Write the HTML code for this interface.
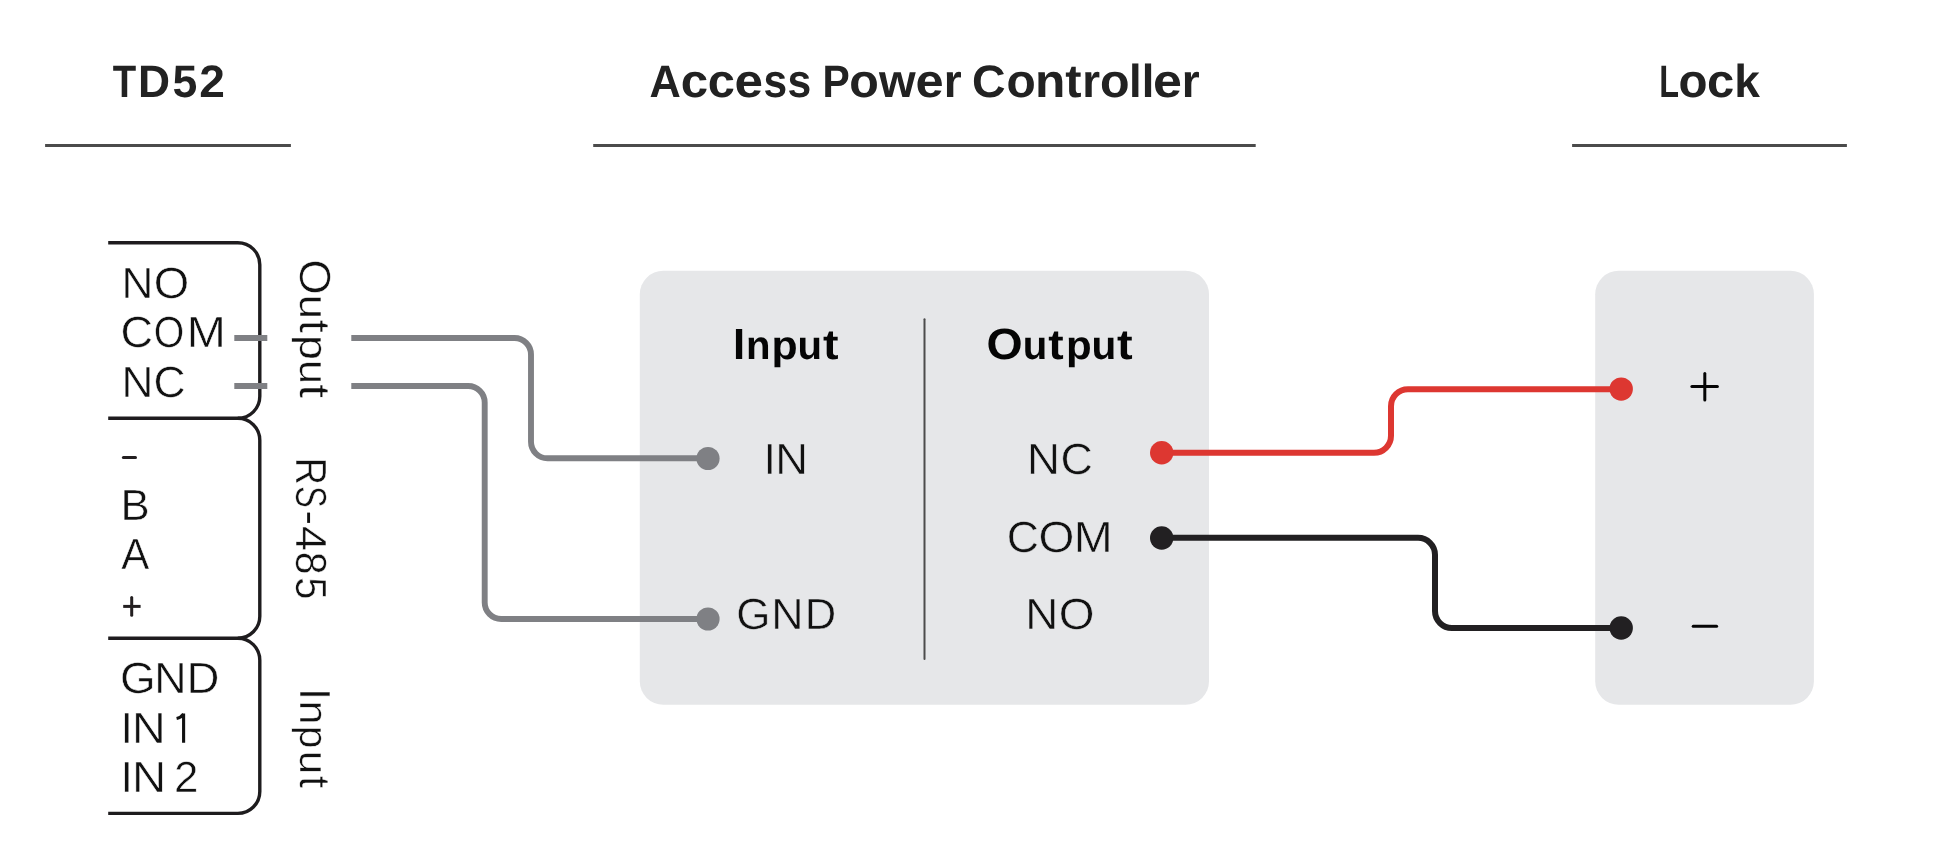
<!DOCTYPE html>
<html><head><meta charset="utf-8">
<style>
html,body{margin:0;padding:0;background:#fff;width:1952px;height:858px;overflow:hidden}
svg{display:block;will-change:transform;text-rendering:geometricPrecision}
text{font-family:"Liberation Sans",sans-serif;font-kerning:none}
.h{font-weight:bold;fill:#222;font-size:45.4px}
.l{fill:#111;font-size:43.6px;stroke:#fff;stroke-width:0.5px}
.lb{stroke:#e6e7e9}
.b{font-weight:bold;fill:#050505;font-size:43.6px}
</style></head><body>
<svg width="1952" height="858" viewBox="0 0 1952 858">
<g stroke="#4b4b4b" stroke-width="3">
<line x1="45.1" y1="145.6" x2="290.9" y2="145.6"/>
<line x1="593.2" y1="145.6" x2="1255.7" y2="145.6"/>
<line x1="1572.1" y1="145.6" x2="1846.9" y2="145.6"/>
</g>
<rect x="639.8" y="270.8" width="569.2" height="434" rx="23.5" fill="#e6e7e9"/>
<rect x="1595.2" y="270.8" width="218.7" height="434" rx="23.5" fill="#e6e7e9"/>
<line x1="924.5" y1="319.2" x2="924.5" y2="659" stroke="#4c4c4c" stroke-width="2" stroke-linecap="round"/>
<g fill="none" stroke="#1e1c1e" stroke-width="3.4">
<path d="M108.2 242.7 H237.8 A22 22 0 0 1 259.8 264.7 V396.3 A22 22 0 0 1 237.8 418.3 H108.2"/>
<path d="M237.8 418.3 A22 22 0 0 1 259.8 440.3 V616.2 A22 22 0 0 1 237.8 638.2 H108.2"/>
<path d="M237.8 638.2 A22 22 0 0 1 259.8 660.2 V791.4 A22 22 0 0 1 237.8 813.4 H108.2"/>
</g>
<g stroke="#231f20" stroke-width="3">
<line x1="123.4" y1="457.5" x2="135.5" y2="457.5" stroke-linecap="round"/>
<line x1="123.2" y1="606.4" x2="140.6" y2="606.4"/>
<line x1="131.7" y1="597.4" x2="131.7" y2="615.2" stroke-linecap="round"/>
<path d="M183.6 713.6 V742.7 M176.6 718.4 Q181.2 717.4 183.6 713.8" fill="none" stroke="#111" stroke-width="3.1"/>
<line x1="308.6" y1="512.6" x2="308.6" y2="522.9" stroke="#111" stroke-width="2.9"/>
</g>
<g fill="none" stroke="#7f8084" stroke-width="5.9">
<path d="M234.3 338 H267.3"/>
<path d="M234.3 386 H267.3"/>
<path d="M351.3 338 H514.5 A16.5 16.5 0 0 1 531 354.5 V441.8 A16.5 16.5 0 0 0 547.5 458.3 H708"/>
<path d="M351.3 386 H468.2 A16.5 16.5 0 0 1 484.7 402.5 V602.5 A16.5 16.5 0 0 0 501.2 619 H708"/>
</g>
<circle cx="708" cy="458.5" r="11.6" fill="#7f8084"/>
<circle cx="708" cy="619" r="11.6" fill="#7f8084"/>
<path d="M1162 452.8 H1374 A17 17 0 0 0 1391 435.8 V406.2 A17 17 0 0 1 1408 389.2 H1621" fill="none" stroke="#dd3731" stroke-width="6"/>
<circle cx="1161.7" cy="452.7" r="11.7" fill="#dd3731"/>
<circle cx="1621.2" cy="389.1" r="11.7" fill="#dd3731"/>
<path d="M1162 537.8 H1418 A17 17 0 0 1 1435 554.8 V611 A17 17 0 0 0 1452 628 H1621" fill="none" stroke="#222022" stroke-width="6"/>
<circle cx="1161.7" cy="538" r="11.7" fill="#222022"/>
<circle cx="1621.2" cy="628" r="11.7" fill="#222022"/>
<g stroke="#050505" stroke-width="3" stroke-linecap="round">
<line x1="1691.9" y1="386.5" x2="1717.4" y2="386.5"/>
<line x1="1704.8" y1="373.4" x2="1704.8" y2="399.9"/>
<line x1="1693.2" y1="626.2" x2="1716.6" y2="626.2"/>
</g>
<text class="h" x="112.87" y="97" textLength="23.44" lengthAdjust="spacingAndGlyphs">T</text>
<text class="h" x="137.93" y="97" textLength="32.03" lengthAdjust="spacingAndGlyphs">D</text>
<text class="h" x="172.53" y="97" textLength="24.81" lengthAdjust="spacingAndGlyphs">5</text>
<text class="h" x="199.20" y="97" textLength="25.64" lengthAdjust="spacingAndGlyphs">2</text>
<text class="h" x="649.62" y="97" textLength="31.32" lengthAdjust="spacingAndGlyphs">A</text>
<text class="h" x="680.68" y="0" textLength="27.36" lengthAdjust="spacingAndGlyphs" transform="translate(0 97) scale(1 1.03)">c</text>
<text class="h" x="707.69" y="0" textLength="27.14" lengthAdjust="spacingAndGlyphs" transform="translate(0 97) scale(1 1.03)">c</text>
<text class="h" x="734.60" y="0" textLength="28.45" lengthAdjust="spacingAndGlyphs" transform="translate(0 97) scale(1 1.03)">e</text>
<text class="h" x="763.51" y="0" textLength="23.64" lengthAdjust="spacingAndGlyphs" transform="translate(0 97) scale(1 1.03)">s</text>
<text class="h" x="787.60" y="0" textLength="23.75" lengthAdjust="spacingAndGlyphs" transform="translate(0 97) scale(1 1.03)">s</text>
<text class="h" x="822.47" y="97" textLength="27.23" lengthAdjust="spacingAndGlyphs">P</text>
<text class="h" x="849.21" y="0" textLength="29.58" lengthAdjust="spacingAndGlyphs" transform="translate(0 97) scale(1 1.03)">o</text>
<text class="h" x="878.94" y="0" textLength="36.67" lengthAdjust="spacingAndGlyphs" transform="translate(0 97) scale(1 1.03)">w</text>
<text class="h" x="915.63" y="0" textLength="28.10" lengthAdjust="spacingAndGlyphs" transform="translate(0 97) scale(1 1.03)">e</text>
<text class="h" x="943.76" y="0" textLength="17.94" lengthAdjust="spacingAndGlyphs" transform="translate(0 97) scale(1 1.03)">r</text>
<text class="h" x="972.09" y="97" textLength="33.58" lengthAdjust="spacingAndGlyphs">C</text>
<text class="h" x="1006.53" y="0" textLength="29.24" lengthAdjust="spacingAndGlyphs" transform="translate(0 97) scale(1 1.03)">o</text>
<text class="h" x="1034.92" y="0" textLength="30.36" lengthAdjust="spacingAndGlyphs" transform="translate(0 97) scale(1 1.03)">n</text>
<text class="h" x="1065.30" y="0" textLength="16.29" lengthAdjust="spacingAndGlyphs" transform="translate(0 97) scale(1 1.02)">t</text>
<text class="h" x="1082.28" y="0" textLength="17.81" lengthAdjust="spacingAndGlyphs" transform="translate(0 97) scale(1 1.03)">r</text>
<text class="h" x="1100.01" y="0" textLength="29.58" lengthAdjust="spacingAndGlyphs" transform="translate(0 97) scale(1 1.03)">o</text>
<text class="h" x="1129.12" y="0" textLength="12.61" lengthAdjust="spacingAndGlyphs" transform="translate(0 97) scale(1 1.02)">l</text>
<text class="h" x="1141.67" y="0" textLength="12.61" lengthAdjust="spacingAndGlyphs" transform="translate(0 97) scale(1 1.02)">l</text>
<text class="h" x="1153.07" y="0" textLength="28.91" lengthAdjust="spacingAndGlyphs" transform="translate(0 97) scale(1 1.03)">e</text>
<text class="h" x="1181.66" y="0" textLength="17.94" lengthAdjust="spacingAndGlyphs" transform="translate(0 97) scale(1 1.03)">r</text>
<text class="h" x="1659.24" y="97" textLength="19.76" lengthAdjust="spacingAndGlyphs">L</text>
<text class="h" x="1678.64" y="0" textLength="29.01" lengthAdjust="spacingAndGlyphs" transform="translate(0 97) scale(1 1.03)">o</text>
<text class="h" x="1707.09" y="0" textLength="27.25" lengthAdjust="spacingAndGlyphs" transform="translate(0 97) scale(1 1.03)">c</text>
<text class="h" x="1734.18" y="0" textLength="25.68" lengthAdjust="spacingAndGlyphs" transform="translate(0 97) scale(1 1.02)">k</text>
<text class="l" x="121.42" y="298" textLength="31.93" lengthAdjust="spacingAndGlyphs">N</text>
<text class="l" x="153.89" y="298" textLength="35.44" lengthAdjust="spacingAndGlyphs">O</text>
<text class="l" x="120.46" y="347" textLength="32.50" lengthAdjust="spacingAndGlyphs">C</text>
<text class="l" x="153.79" y="347" textLength="30.54" lengthAdjust="spacingAndGlyphs">O</text>
<text class="l" x="186.80" y="347" textLength="39.10" lengthAdjust="spacingAndGlyphs">M</text>
<text class="l" x="121.42" y="397" textLength="31.93" lengthAdjust="spacingAndGlyphs">N</text>
<text class="l" x="153.40" y="397" textLength="32.04" lengthAdjust="spacingAndGlyphs">C</text>
<text class="l" x="120.46" y="519.5" textLength="29.20" lengthAdjust="spacingAndGlyphs">B</text>
<text class="l" x="121.37" y="569.4" textLength="28.06" lengthAdjust="spacingAndGlyphs">A</text>
<text class="l" x="120.05" y="693.4" textLength="35.63" lengthAdjust="spacingAndGlyphs">G</text>
<text class="l" x="154.18" y="693.4" textLength="32.32" lengthAdjust="spacingAndGlyphs">N</text>
<text class="l" x="186.51" y="693.4" textLength="32.92" lengthAdjust="spacingAndGlyphs">D</text>
<text class="l" x="120.84" y="743" textLength="12.11" lengthAdjust="spacingAndGlyphs">I</text>
<text class="l" x="132.12" y="743" textLength="33.74" lengthAdjust="spacingAndGlyphs">N</text>
<text class="l" x="120.84" y="792.3" textLength="12.11" lengthAdjust="spacingAndGlyphs">I</text>
<text class="l" x="132.07" y="792.3" textLength="34.13" lengthAdjust="spacingAndGlyphs">N</text>
<text class="l" x="174.04" y="792.3" textLength="24.42" lengthAdjust="spacingAndGlyphs">2</text>
<text class="l" x="259.19" y="0" textLength="35.44" lengthAdjust="spacingAndGlyphs" transform="translate(299.6 0) rotate(90)">O</text>
<text class="l" x="294.72" y="0" textLength="24.22" lengthAdjust="spacingAndGlyphs" transform="translate(299.6 0) rotate(90) scale(1 0.91)">u</text>
<text class="l" x="319.62" y="0" textLength="13.38" lengthAdjust="spacingAndGlyphs" transform="translate(299.6 0) rotate(90) scale(1 0.99)">t</text>
<text class="l" x="334.95" y="0" textLength="24.98" lengthAdjust="spacingAndGlyphs" transform="translate(299.6 0) rotate(90) scale(1 0.91)">p</text>
<text class="l" x="359.94" y="0" textLength="24.09" lengthAdjust="spacingAndGlyphs" transform="translate(299.6 0) rotate(90) scale(1 0.91)">u</text>
<text class="l" x="384.29" y="0" textLength="13.93" lengthAdjust="spacingAndGlyphs" transform="translate(299.6 0) rotate(90) scale(1 0.99)">t</text>
<text class="l" x="457.76" y="0" textLength="27.24" lengthAdjust="spacingAndGlyphs" transform="translate(295.8 0) rotate(90)">R</text>
<text class="l" x="486.07" y="0" textLength="21.78" lengthAdjust="spacingAndGlyphs" transform="translate(295.8 0) rotate(90)">S</text>
<text class="l" x="525.91" y="0" textLength="25.16" lengthAdjust="spacingAndGlyphs" transform="translate(295.8 0) rotate(90)">4</text>
<text class="l" x="551.76" y="0" textLength="22.87" lengthAdjust="spacingAndGlyphs" transform="translate(295.8 0) rotate(90)">8</text>
<text class="l" x="577.35" y="0" textLength="22.17" lengthAdjust="spacingAndGlyphs" transform="translate(295.8 0) rotate(90)">5</text>
<text class="l" x="687.89" y="0" textLength="12.11" lengthAdjust="spacingAndGlyphs" transform="translate(300.3 0) rotate(90)">I</text>
<text class="l" x="700.47" y="0" textLength="24.09" lengthAdjust="spacingAndGlyphs" transform="translate(300.3 0) rotate(90) scale(1 0.91)">n</text>
<text class="l" x="725.71" y="0" textLength="22.76" lengthAdjust="spacingAndGlyphs" transform="translate(300.3 0) rotate(90) scale(1 0.91)">p</text>
<text class="l" x="750.63" y="0" textLength="23.30" lengthAdjust="spacingAndGlyphs" transform="translate(300.3 0) rotate(90) scale(1 0.91)">u</text>
<text class="l" x="775.77" y="0" textLength="12.40" lengthAdjust="spacingAndGlyphs" transform="translate(300.3 0) rotate(90) scale(1 0.99)">t</text>
<text class="b" x="733.09" y="359" textLength="12.11" lengthAdjust="spacingAndGlyphs">I</text>
<text class="b" x="746.05" y="0" textLength="24.54" lengthAdjust="spacingAndGlyphs" transform="translate(0 359) scale(1 0.925)">n</text>
<text class="b" x="771.47" y="0" textLength="26.18" lengthAdjust="spacingAndGlyphs" transform="translate(0 359) scale(1 0.925)">p</text>
<text class="b" x="797.51" y="0" textLength="24.54" lengthAdjust="spacingAndGlyphs" transform="translate(0 359) scale(1 0.925)">u</text>
<text class="b" x="823.03" y="0" textLength="15.54" lengthAdjust="spacingAndGlyphs" transform="translate(0 359) scale(1 0.97)">t</text>
<text class="b" x="986.49" y="359.2" textLength="36.16" lengthAdjust="spacingAndGlyphs">O</text>
<text class="b" x="1022.81" y="0" textLength="24.54" lengthAdjust="spacingAndGlyphs" transform="translate(0 359.2) scale(1 0.925)">u</text>
<text class="b" x="1048.23" y="0" textLength="15.43" lengthAdjust="spacingAndGlyphs" transform="translate(0 359.2) scale(1 0.97)">t</text>
<text class="b" x="1065.93" y="0" textLength="25.70" lengthAdjust="spacingAndGlyphs" transform="translate(0 359.2) scale(1 0.925)">p</text>
<text class="b" x="1091.48" y="0" textLength="24.79" lengthAdjust="spacingAndGlyphs" transform="translate(0 359.2) scale(1 0.925)">u</text>
<text class="b" x="1116.93" y="0" textLength="15.65" lengthAdjust="spacingAndGlyphs" transform="translate(0 359.2) scale(1 0.97)">t</text>
<text class="l lb" x="763.74" y="474" textLength="12.11" lengthAdjust="spacingAndGlyphs">I</text>
<text class="l lb" x="775.23" y="474" textLength="32.71" lengthAdjust="spacingAndGlyphs">N</text>
<text class="l lb" x="736.34" y="629.2" textLength="34.20" lengthAdjust="spacingAndGlyphs">G</text>
<text class="l lb" x="771.18" y="629.2" textLength="32.32" lengthAdjust="spacingAndGlyphs">N</text>
<text class="l lb" x="804.78" y="629.2" textLength="31.46" lengthAdjust="spacingAndGlyphs">D</text>
<text class="l lb" x="1027.11" y="473.9" textLength="32.97" lengthAdjust="spacingAndGlyphs">N</text>
<text class="l lb" x="1060.48" y="473.9" textLength="32.27" lengthAdjust="spacingAndGlyphs">C</text>
<text class="l lb" x="1006.69" y="551.9" textLength="32.16" lengthAdjust="spacingAndGlyphs">C</text>
<text class="l lb" x="1038.46" y="551.9" textLength="35.89" lengthAdjust="spacingAndGlyphs">O</text>
<text class="l lb" x="1073.81" y="551.9" textLength="38.98" lengthAdjust="spacingAndGlyphs">M</text>
<text class="l lb" x="1025.29" y="628.9" textLength="33.10" lengthAdjust="spacingAndGlyphs">N</text>
<text class="l lb" x="1058.67" y="628.9" textLength="35.78" lengthAdjust="spacingAndGlyphs">O</text>
</svg>
</body></html>
